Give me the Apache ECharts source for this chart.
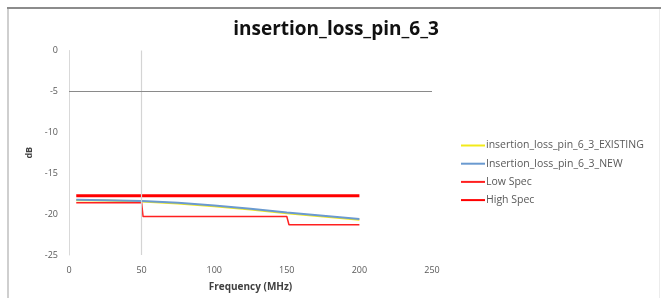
<!DOCTYPE html>
<html>
<head>
<meta charset="utf-8">
<script src="https://cdn.jsdelivr.net/npm/echarts@6/dist/echarts.min.js"></script>
<style>
  html, body { margin: 0; padding: 0; background: #fff; }
  #chart { width: 661px; height: 298px; }
</style>
</head>
<body>
<div id="chart"></div>
<script>
  // frequency points (MHz)
  var freqs = [5, 25, 50, 75, 100, 125, 150, 175, 200];
  var existingVals = [-18.3, -18.35, -18.45, -18.7, -19.05, -19.45, -19.9, -20.3, -20.7];
  var newVals = [-18.25, -18.3, -18.4, -18.6, -18.95, -19.35, -19.8, -20.2, -20.6];

  // spec limits
  var lowSpecX = [5, 50, 51, 150, 151.5, 200];
  var lowSpecY = [-18.6, -18.6, -20.3, -20.3, -21.3, -21.3];
  var highSpecX = [5, 200];
  var highSpecY = [-17.75, -17.75];

  var xTicks = [0, 250, 50];   // min, max, step
  var yTicks = [-25, 0, 5];

  function pairs(xs, ys) {
    return xs.map(function (x, i) { return [x, ys[i]]; });
  }

  var labelFont = 'Open Sans';
  var chart = echarts.init(document.getElementById('chart'));

  chart.setOption({
    animation: false,
    title: {
      text: 'insertion_loss_pin_6_3',
      left: 331,
      textAlign: 'center',
      top: 15,
      textStyle: { fontFamily: labelFont, fontSize: 19, fontWeight: 'bold', color: '#111' }
    },
    graphic: [
      { type: 'rect', shape: { x: 7, y: 7, width: 660, height: 2 }, style: { fill: '#8c8c8c' } },
      { type: 'rect', shape: { x: 7, y: 9, width: 2, height: 300 }, style: { fill: '#cfcfcf' } },
      { type: 'rect', shape: { x: 659, y: 9, width: 1, height: 300 }, style: { fill: '#ececec' } }
    ],
    legend: {
      orient: 'vertical',
      left: 455,
      top: 135,
      itemWidth: 24,
      itemHeight: 10,
      itemGap: 7.2,
      itemStyle: { opacity: 0 },
      textStyle: { fontFamily: labelFont, fontSize: 10.5, color: '#595959', padding: [0, 0, 0, -4] },
      data: ['insertion_loss_pin_6_3_EXISTING', 'Insertion_loss_pin_6_3_NEW', 'Low Spec', 'High Spec']
    },
    grid: { left: 69, right: 229, top: 50.5, bottom: 43 },
    xAxis: {
      type: 'value',
      min: xTicks[0], max: xTicks[1], interval: xTicks[2],
      name: 'Frequency (MHz)',
      nameLocation: 'middle',
      nameGap: 27,
      nameTextStyle: { fontFamily: labelFont, fontSize: 10, fontWeight: 'bold', color: '#404040' },
      axisLine: { show: false },
      axisTick: { show: false },
      splitLine: { show: false },
      axisLabel: { fontFamily: labelFont, fontSize: 9, color: '#595959', margin: 11 }
    },
    yAxis: {
      type: 'value',
      min: yTicks[0], max: yTicks[1], interval: yTicks[2],
      name: 'dB',
      nameLocation: 'middle',
      nameGap: 35,
      nameTextStyle: { fontFamily: labelFont, fontSize: 9, fontWeight: 'bold', color: '#404040' },
      axisLine: { show: true, onZero: false, lineStyle: { color: '#d9d9d9', width: 1 } },
      axisTick: { show: false },
      splitLine: { show: false },
      axisLabel: { fontFamily: labelFont, fontSize: 9, color: '#595959', margin: 11 }
    },
    series: [
      {
        name: 'insertion_loss_pin_6_3_EXISTING',
        type: 'line',
        symbol: 'none',
        color: '#f2ea1a',
        lineStyle: { width: 2 },
        data: pairs(freqs, existingVals),
        markLine: {
          silent: true,
          symbol: 'none',
          label: { show: false },
          data: [
            { xAxis: 50, lineStyle: { color: '#d4d4d4', width: 1.2, type: 'solid' } },
            { yAxis: -5, lineStyle: { color: '#8a8a8a', width: 1, type: 'solid' } }
          ]
        }
      },
      {
        name: 'Insertion_loss_pin_6_3_NEW',
        type: 'line',
        symbol: 'none',
        color: '#6a9ad0',
        lineStyle: { width: 2 },
        data: pairs(freqs, newVals)
      },
      {
        name: 'Low Spec',
        type: 'line',
        symbol: 'none',
        color: '#ff2020',
        lineStyle: { width: 1.5 },
        data: pairs(lowSpecX, lowSpecY)
      },
      {
        name: 'High Spec',
        type: 'line',
        symbol: 'none',
        color: '#ff0000',
        lineStyle: { width: 3 },
        data: pairs(highSpecX, highSpecY)
      }
    ]
  });
</script>
</body>
</html>
